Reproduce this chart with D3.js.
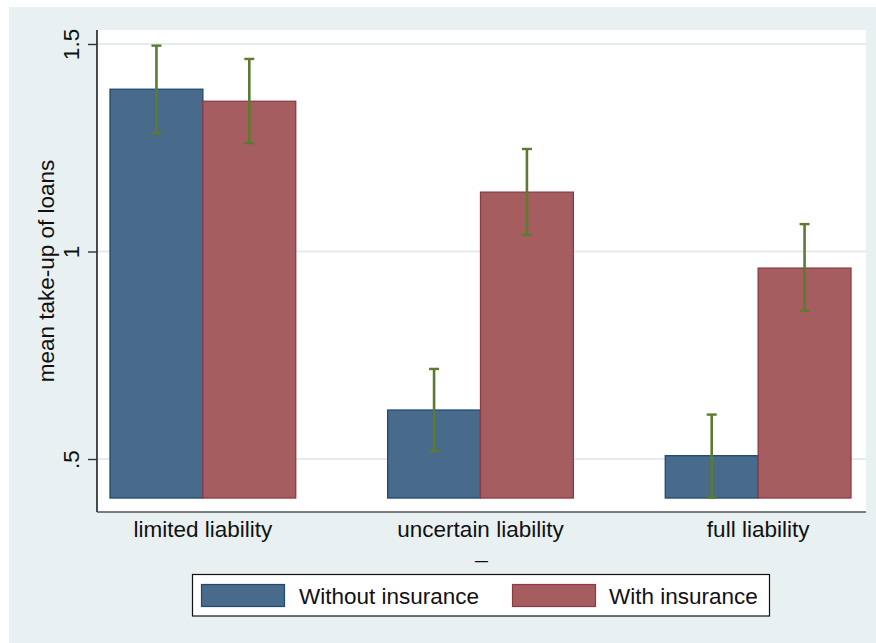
<!DOCTYPE html>
<html>
<head>
<meta charset="utf-8">
<script src="https://cdn.jsdelivr.net/npm/d3@7"></script>
<style>
  html, body { margin: 0; padding: 0; background: #ffffff; }
  svg { display: block; }
  text { font-family: "Liberation Sans", Arial, sans-serif; fill: #111; }
</style>
</head>
<body>
<svg id="chart" width="876" height="643"></svg>
<script>
// Loan take-up by liability regime, with and without insurance
const categories = ["limited liability", "uncertain liability", "full liability"];
const seriesNames = ["Without insurance", "With insurance"];
const meanWithout = [1.391, 0.618, 0.508];
const meanWith    = [1.362, 1.143, 0.960];
const ciLowWithout  = [1.285, 0.519, 0.407];
const ciHighWithout = [1.496, 0.717, 0.607];
const ciLowWith     = [1.261, 1.040, 0.857];
const ciHighWith    = [1.464, 1.247, 1.066];
const yTicks = [0.5, 1, 1.5];
const yTickLabels = [".5", "1", "1.5"];
const yTitle = "mean take-up of loans";
const xTitle = "_";
const barBase = 0.406;
const yDomain = [0.3723, 1.5337];

const fontSize = "22.5px";
const colors = { fill: ["#486a8b", "#a55d60"], stroke: ["#1f4a72", "#8f3a42"] };
const ciColor = "#5b7b30";

const rows = [];
categories.forEach((c, i) => {
  rows.push({ cat: c, series: seriesNames[0], s: 0, mean: meanWithout[i], lo: ciLowWithout[i], hi: ciHighWithout[i] });
  rows.push({ cat: c, series: seriesNames[1], s: 1, mean: meanWith[i], lo: ciLowWith[i], hi: ciHighWith[i] });
});

const svg = d3.select("#chart");
const plot = { left: 97, right: 866, top: 30, bottom: 512 };

// outer graph region
svg.append("rect").attr("x", 9).attr("y", 7).attr("width", 867).attr("height", 636).attr("fill", "#e8f0f2");
// plot region
svg.append("rect").attr("x", plot.left).attr("y", plot.top)
  .attr("width", plot.right - plot.left).attr("height", plot.bottom - plot.top).attr("fill", "#ffffff");

const y = d3.scaleLinear().domain(yDomain).range([plot.bottom, plot.top]);
const x = d3.scaleBand().domain(categories).range([110, 851]).paddingInner(0.331).paddingOuter(0);
const xs = d3.scaleBand().domain([0, 1]).range([0, x.bandwidth()]);

// gridlines
svg.append("g").selectAll("line").data(yTicks).join("line")
  .attr("x1", plot.left + 1).attr("x2", plot.right)
  .attr("y1", d => y(d)).attr("y2", d => y(d))
  .attr("stroke", "#e4ecef").attr("stroke-width", 2.2);

// bars
svg.append("g").selectAll("rect").data(rows).join("rect")
  .attr("x", d => x(d.cat) + xs(d.s))
  .attr("width", xs.bandwidth())
  .attr("y", d => y(d.mean))
  .attr("height", d => y(barBase) - y(d.mean))
  .attr("fill", d => colors.fill[d.s])
  .attr("stroke", d => colors.stroke[d.s])
  .attr("stroke-width", 1.3);

// confidence intervals
const ci = svg.append("g").attr("stroke", ciColor);
const cx = d => x(d.cat) + xs(d.s) + xs.bandwidth() / 2;
ci.selectAll("line.v").data(rows).join("line").attr("class", "v")
  .attr("x1", cx).attr("x2", cx)
  .attr("y1", d => y(d.lo)).attr("y2", d => y(d.hi))
  .attr("stroke-width", 2.6);
ci.selectAll("line.cap").data(rows.flatMap(d => [{ d, v: d.lo }, { d, v: d.hi }])).join("line").attr("class", "cap")
  .attr("x1", e => cx(e.d) - 5).attr("x2", e => cx(e.d) + 5)
  .attr("y1", e => y(e.v)).attr("y2", e => y(e.v))
  .attr("stroke-width", 2.4);

// y axis
const yAxis = svg.append("g").attr("transform", `translate(${plot.left},0)`)
  .call(d3.axisLeft(y).tickValues(yTicks).tickSize(9).tickFormat((d, i) => yTickLabels[i]));
yAxis.select(".domain").attr("d", `M0,${plot.top}V${plot.bottom}`).attr("stroke", "#000").attr("stroke-width", 1.4);
yAxis.selectAll(".tick line").attr("stroke", "#333").attr("stroke-width", 1.4);
yAxis.selectAll(".tick text")
  .attr("x", 0).attr("y", 0).attr("dy", 0)
  .attr("transform", "translate(-18,0) rotate(-90)")
  .attr("text-anchor", "middle")
  .style("font-size", fontSize).style("font-family", "Liberation Sans, Arial, sans-serif").attr("fill", "#111");

// x axis
const xAxis = svg.append("g").attr("transform", `translate(0,${plot.bottom})`)
  .call(d3.axisBottom(x).tickSize(0).tickPadding(0));
xAxis.select(".domain").attr("d", `M${plot.left},0H${plot.right}`).attr("stroke", "#555").attr("stroke-width", 1.6);
xAxis.selectAll(".tick text").attr("dy", 0).attr("y", 25)
  .style("font-size", fontSize).style("font-family", "Liberation Sans, Arial, sans-serif").attr("fill", "#111");

// axis titles
svg.append("text").attr("transform", `translate(54,${(plot.top + plot.bottom) / 2}) rotate(-90)`)
  .attr("text-anchor", "middle").style("font-size", fontSize).text(yTitle);
svg.append("text").attr("x", (plot.left + plot.right) / 2).attr("y", 558)
  .attr("text-anchor", "middle").style("font-size", fontSize).text(xTitle);

// legend
const legend = svg.append("g");
legend.append("rect").attr("x", 192.5).attr("y", 574.5).attr("width", 577).attr("height", 41.5)
  .attr("fill", "#ffffff").attr("stroke", "#111").attr("stroke-width", 1.2);
const legX = [201.5, 512.5];
const legTextX = [299, 609];
seriesNames.forEach((name, i) => {
  legend.append("rect").attr("x", legX[i]).attr("y", 584.5).attr("width", 83).attr("height", 22)
    .attr("fill", colors.fill[i]).attr("stroke", colors.stroke[i]).attr("stroke-width", 1.2);
  legend.append("text").attr("x", legTextX[i]).attr("y", 604).style("font-size", fontSize).text(name);
});
</script>
</body>
</html>
